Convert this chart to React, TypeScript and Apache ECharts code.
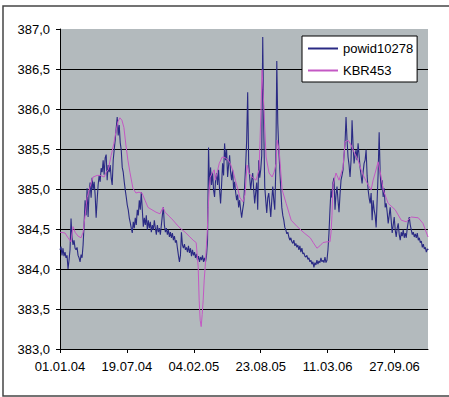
import React, { useEffect, useRef } from "react";
import * as echarts from "echarts";

const tickLabels = ["01.01.04", "19.07.04", "04.02.05", "23.08.05", "11.03.06", "27.09.06"];
const tickStepDays = 200;
const xMaxDays = 1100;
const yMin = 383;
const yMax = 387;
const yStep = 0.5;

const seriesNames = ["powid10278", "KBR453"];

// powid10278: one reading every 3 days starting 01.01.04
const blueStepDays = 3;
const blueValues = [
  384.24, 384.28, 384.17, 384.26, 384.16, 384.21, 384.14, 384.17, 384.0, 384.11,
  384.24, 384.63, 384.39, 384.3, 384.36, 384.26, 384.24, 384.27, 384.17, 384.14,
  384.09, 384.18, 384.14, 384.3, 384.55, 384.86, 384.67, 385.01, 384.65, 384.96,
  385.08, 384.89, 385.14, 384.99, 385.09, 384.93, 384.64, 384.86, 385.05, 385.17,
  385.09, 385.26, 385.21, 385.36, 385.18, 385.39, 385.43, 385.11, 385.3, 385.21,
  385.3, 385.14, 385.05, 385.36, 385.49, 385.61, 385.76, 385.9, 385.67, 385.8,
  385.58, 385.49, 385.27, 385.21, 385.09, 384.99, 384.9, 384.8, 384.74, 384.64,
  384.58, 384.51, 384.45, 384.59, 384.51, 384.64, 384.55, 384.74, 384.67, 384.86,
  384.74, 384.96, 384.74, 384.53, 384.64, 384.55, 384.67, 384.49, 384.61, 384.51,
  384.59, 384.46, 384.55, 384.49, 384.61, 384.51, 384.43, 384.55, 384.46, 384.51,
  384.43, 384.55, 384.67, 384.77, 384.55, 384.46, 384.51, 384.43, 384.49, 384.4,
  384.46, 384.39, 384.45, 384.36, 384.41, 384.33, 384.36, 384.26, 384.17, 384.09,
  384.17, 384.46, 384.3, 384.26, 384.31, 384.24, 384.27, 384.21, 384.29, 384.2,
  384.26, 384.16, 384.24, 384.17, 384.21, 384.14, 384.19, 384.11, 384.16, 384.09,
  384.15, 384.11, 384.17, 384.09, 384.14, 384.09, 384.17, 384.36, 385.52, 384.99,
  385.27, 385.05, 385.21, 384.99, 384.9, 385.11, 385.2, 385.05, 385.24, 384.99,
  384.82, 385.05, 385.32, 385.17, 385.57, 385.36, 385.49, 385.15, 385.3, 385.42,
  385.21, 385.11, 385.24, 384.99, 385.09, 384.96, 384.86, 384.93, 384.77, 384.86,
  384.74, 384.64, 384.74, 384.82, 385.05, 385.3, 385.61, 386.21, 385.32, 385.14,
  384.99, 385.11, 385.2, 384.99, 384.82, 384.96, 385.08, 384.74, 385.36, 385.14,
  385.24, 385.42, 386.9, 385.77, 385.03, 384.86, 384.7, 384.89, 384.95, 384.8,
  384.65, 384.86, 385.03, 384.86, 384.74, 385.24, 386.6, 385.82, 385.49, 385.24,
  384.99, 384.77, 384.67, 384.61, 384.52, 384.49, 384.44, 384.46, 384.4, 384.36,
  384.39, 384.34, 384.32, 384.36, 384.29, 384.32, 384.27, 384.3, 384.24, 384.29,
  384.21, 384.26, 384.19, 384.2, 384.16, 384.15, 384.17, 384.12, 384.14, 384.09,
  384.11, 384.06, 384.09, 384.02, 384.08, 384.05, 384.11, 384.06, 384.1, 384.08,
  384.14, 384.09, 384.11, 384.08, 384.15, 384.08, 384.11, 384.24, 384.45, 384.74,
  384.99, 384.89, 385.08, 385.14, 384.74, 384.93, 385.03, 384.86, 384.71, 384.93,
  385.11, 385.17, 385.24, 385.42, 385.57, 385.9, 385.61, 385.4, 385.3, 385.15,
  385.36, 385.86, 385.55, 385.32, 385.42, 385.49, 385.36, 385.57, 385.42, 385.27,
  385.17, 385.07, 385.21, 385.32, 385.36, 385.49, 385.17, 384.99, 384.89, 384.82,
  384.95, 384.61, 384.86, 384.74, 384.67, 384.52, 384.86, 385.2, 385.71, 385.2,
  384.99, 385.11, 384.9, 385.01, 384.77, 384.82, 384.71, 384.57, 384.67, 384.77,
  384.61, 384.45, 384.55, 384.65, 384.49, 384.4, 384.51, 384.57, 384.43, 384.36,
  384.46, 384.41, 384.49, 384.39, 384.45, 384.39, 384.51, 384.59, 384.65, 384.55,
  384.49, 384.43, 384.46, 384.4, 384.44, 384.39, 384.45, 384.36, 384.39, 384.33,
  384.35, 384.27, 384.31, 384.25, 384.27, 384.21, 384.25, 384.24,
];

// KBR453: days since 01.01.04 and values
const pinkDays = [
  0, 15, 24, 33, 39, 45, 54, 63, 69, 75, 81, 90, 99, 111, 120, 132, 138, 144, 153, 161,
  167, 173, 179, 185, 191, 197, 203, 209, 218, 227, 236, 245, 254, 263, 275, 287, 299, 308, 314, 326,
  338, 350, 362, 374, 386, 398, 407, 413, 416, 419, 422, 425, 428, 431, 434, 437, 440, 443, 446, 449,
  455, 461, 464, 470, 476, 485, 494, 503, 509, 518, 524, 532, 538, 547, 553, 559, 565, 574, 586, 595,
  598, 601, 604, 607, 610, 616, 625, 634, 640, 646, 649, 655, 661, 664, 676, 691, 709, 730, 748, 757,
  768, 777, 786, 798, 807, 810, 813, 816, 825, 834, 846, 852, 861, 870, 879, 891, 900, 909, 921, 930,
  936, 942, 951, 960, 966, 981, 1002, 1020, 1035, 1050, 1071, 1085, 1100,
];
const pinkValues = [
  384.46, 384.45, 384.39, 384.34, 384.53, 384.46, 384.41, 384.39, 384.46, 384.67, 384.89, 385.03, 385.15, 385.17, 385.17, 385.15, 385.21, 385.24, 385.42, 385.57,
  385.71, 385.84, 385.89, 385.86, 385.77, 385.55, 385.36, 385.21, 385.01, 384.95, 384.96, 384.95, 384.86, 384.77, 384.74, 384.71, 384.69, 384.77, 384.71, 384.66,
  384.61, 384.55, 384.5, 384.46, 384.41, 384.36, 384.33, 384.03, 383.61, 383.36, 383.28, 383.43, 383.61, 383.86, 384.03, 384.24, 384.45, 384.77, 384.99, 385.15,
  385.2, 385.24, 385.11, 385.21, 385.32, 385.4, 385.39, 385.36, 385.32, 385.21, 385.11, 384.99, 384.89, 384.84, 384.93, 385.3, 385.2, 385.15, 385.11, 385.24,
  385.61, 386.02, 386.49, 386.24, 385.95, 385.4, 385.2, 385.15, 385.21, 385.32, 385.61, 385.49, 385.15, 384.99, 384.82, 384.61, 384.53, 384.45, 384.39, 384.33,
  384.26, 384.29, 384.33, 384.34, 384.34, 384.45, 384.67, 385.05, 385.2, 385.11, 385.27, 385.59, 385.61, 385.55, 385.46, 385.36, 385.24, 385.15, 385.05, 384.99,
  385.11, 385.2, 385.34, 385.15, 384.99, 384.82, 384.74, 384.61, 384.59, 384.65, 384.64, 384.57, 384.4,
];

const blueData = blueValues.map((v, i) => [i * blueStepDays, v]);
const pinkData = pinkDays.map((d, i) => [d, pinkValues[i]]);
const tickValues = tickLabels.map((_, i) => i * tickStepDays);

const FONT = "Liberation Sans, Arial, sans-serif";

export default function App() {
  const ref = useRef<HTMLDivElement>(null);
  useEffect(() => {
    if (!ref.current) return;
    const chart = echarts.init(ref.current, undefined, { renderer: "svg" });
    chart.setOption({
      animation: false,
      backgroundColor: "#ffffff",
      textStyle: { fontFamily: FONT },
      graphic: [
        {
          type: "rect",
          shape: { x: 3, y: 6, width: 460, height: 390 },
          style: { fill: "none", stroke: "#454545", lineWidth: 1.5 },
          silent: true,
          z: 100,
        },
      ],
      grid: {
        left: 60,
        top: 29,
        right: 21,
        bottom: 48,
        show: true,
        backgroundColor: "#b3babd",
        borderWidth: 0,
      },
      legend: {
        orient: "vertical",
        left: 302,
        top: 36,
        backgroundColor: "#ffffff",
        borderColor: "#000000",
        borderWidth: 1,
        padding: [6, 4, 5, 5],
        itemWidth: 30,
        itemHeight: 14,
        itemGap: 9,
        itemStyle: { opacity: 0 },
        textStyle: { fontFamily: FONT, fontSize: 13, color: "#000" },
        data: seriesNames,
      },
      xAxis: {
        type: "value",
        min: 0,
        max: xMaxDays,
        interval: tickStepDays,
        axisLine: { show: true, lineStyle: { color: "#000", width: 1 } },
        axisTick: { show: true, length: 4, lineStyle: { color: "#000" }, customValues: tickValues },
        axisLabel: {
          margin: 11,
          fontSize: 13,
          color: "#000",
          fontFamily: FONT,
          customValues: tickValues,
          formatter: (v: number) => {
            const i = Math.round(v / tickStepDays);
            return v % tickStepDays === 0 && tickLabels[i] ? tickLabels[i] : "";
          },
        },
        splitLine: { show: false },
      },
      yAxis: {
        type: "value",
        min: yMin,
        max: yMax,
        interval: yStep,
        axisLine: { show: true, lineStyle: { color: "#000", width: 1 } },
        axisTick: { show: true, length: 4, lineStyle: { color: "#000" } },
        axisLabel: {
          margin: 10,
          fontSize: 13,
          color: "#000",
          fontFamily: FONT,
          formatter: (v: number) => v.toFixed(1).replace(".", ","),
        },
        splitLine: { show: true, showMaxLine: false, lineStyle: { color: "#000", width: 1 } },
      },
      series: [
        {
          name: seriesNames[0],
          type: "line",
          data: blueData,
          symbol: "none",
          lineStyle: { color: "#2a2a84", width: 1.1 },
          itemStyle: { color: "#2a2a84" },
          z: 2,
        },
        {
          name: seriesNames[1],
          type: "line",
          data: pinkData,
          symbol: "none",
          lineStyle: { color: "#c458c4", width: 1 },
          itemStyle: { color: "#c458c4" },
          z: 3,
        },
      ],
    });
    return () => chart.dispose();
  }, []);
  return (
    <div
      ref={ref}
      style={{ position: "fixed", left: 0, top: 0, width: 449, height: 397 }}
    />
  );
}
